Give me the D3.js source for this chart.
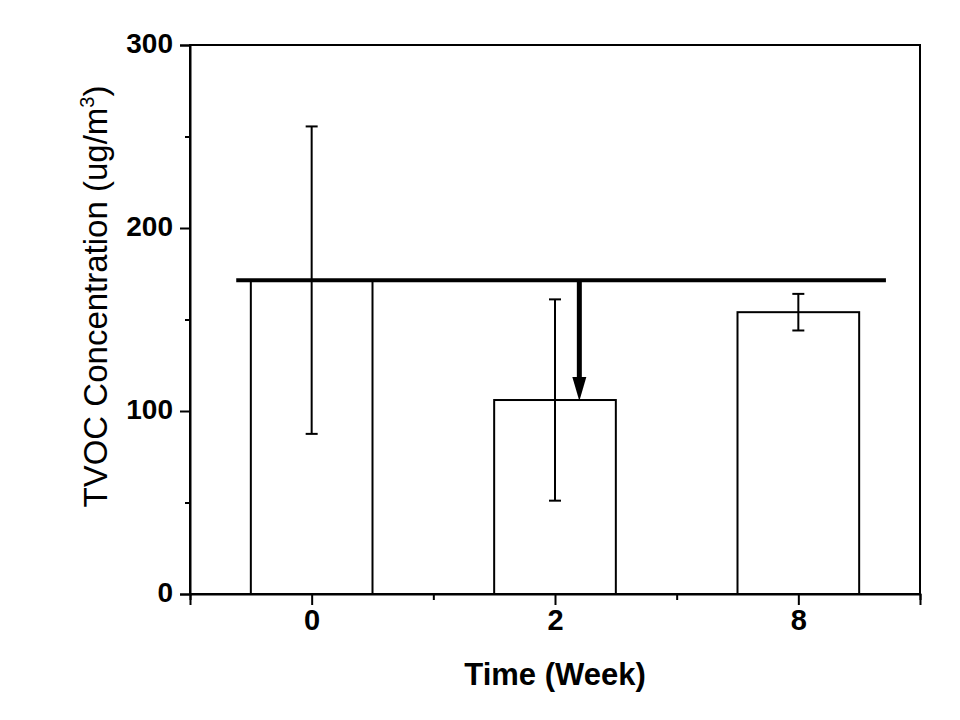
<!DOCTYPE html>
<html>
<head>
<meta charset="utf-8">
<script src="https://cdn.jsdelivr.net/npm/d3@7"></script>
<style>
    body { margin: 0; background: #fff; }
    text { font-family: "Liberation Sans", Arial, sans-serif; font-weight: bold; fill: #000; }
</style>
</head>
<body>
<div id="chart"></div>
<script>
    // weeks and TVOC values
    var weeks = ["0", "2", "8"];
    var means = [171.5, 106, 154];
    var errs = [84, 55, 10];
    var baseline = 171.5;   // level of week 0, drawn as the reference line
    var yTicks = [0, 100, 200, 300];

    var margin = {top: 45, right: 40, bottom: 126, left: 190},
        width = 960 - margin.left - margin.right,
        height = 720 - margin.top - margin.bottom;

    var x = d3.scaleLinear().domain([-0.5, 2.5]).range([0, width]);
    var y = d3.scaleLinear().domain([0, 300]).range([height, 0]);

    var svg = d3.select("#chart").append("svg")
        .attr("width", 960)
        .attr("height", 720)
        .append("g")
        .attr("transform", "translate(" + margin.left + "," + margin.top + ")");

    // bars
    svg.selectAll(".bar")
        .data(means)
        .enter().append("rect")
        .attr("x", function (d, i) { return x(i - 0.25); })
        .attr("y", function (d) { return y(d); })
        .attr("width", x(0.25) - x(-0.25))
        .attr("height", function (d) { return height - y(d); })
        .attr("fill", "#fff")
        .attr("stroke", "#000")
        .attr("stroke-width", 2);

    // error bars
    var eb = svg.selectAll(".err")
        .data(means)
        .enter().append("g");
    eb.append("line")
        .attr("x1", function (d, i) { return x(i); })
        .attr("x2", function (d, i) { return x(i); })
        .attr("y1", function (d, i) { return y(d + errs[i]); })
        .attr("y2", function (d, i) { return y(d - errs[i]); })
        .attr("stroke", "#000").attr("stroke-width", 2);
    [1, -1].forEach(function (s) {
        eb.append("line")
            .attr("x1", function (d, i) { return x(i) - 6; })
            .attr("x2", function (d, i) { return x(i) + 6; })
            .attr("y1", function (d, i) { return y(d + s * errs[i]); })
            .attr("y2", function (d, i) { return y(d + s * errs[i]); })
            .attr("stroke", "#000").attr("stroke-width", 2);
    });

    // reference line + arrow down to week 2
    svg.append("line")
        .attr("x1", x(-0.31)).attr("x2", x(2.36))
        .attr("y1", y(baseline)).attr("y2", y(baseline))
        .attr("stroke", "#000").attr("stroke-width", 4);

    var ax = x(1.1);
    svg.append("line")
        .attr("x1", ax).attr("x2", ax)
        .attr("y1", y(baseline)).attr("y2", y(means[1]) - 20)
        .attr("stroke", "#000").attr("stroke-width", 5);
    svg.append("path")
        .attr("d", "M" + (ax - 7) + "," + (y(means[1]) - 23) +
            "L" + (ax + 7) + "," + (y(means[1]) - 23) +
            "L" + ax + "," + (y(means[1]) + 1) + "Z")
        .attr("fill", "#000");

    // frame
    svg.append("rect")
        .attr("width", width).attr("height", height)
        .attr("fill", "none").attr("stroke", "#000").attr("stroke-width", 2);

    // y axis: majors + minors, outward
    var gy = svg.append("g")
        .call(d3.axisLeft(y).tickValues(yTicks).tickSize(10).tickPadding(7));
    gy.select(".domain").attr("stroke-width", 2);
    gy.selectAll(".tick line").attr("stroke-width", 2);
    gy.selectAll("text").style("font-size", "28px").attr("dy", "0.26em");
    svg.append("g")
        .call(d3.axisLeft(y).tickValues([50, 150, 250]).tickSize(5).tickFormat(""))
        .call(function (g) { g.select(".domain").remove(); })
        .selectAll("line").attr("stroke-width", 2);

    // x axis
    var gx = svg.append("g")
        .attr("transform", "translate(0," + height + ")")
        .call(d3.axisBottom(x).tickValues([0, 1, 2]).tickFormat(function (d) { return weeks[d]; })
            .tickSize(11).tickPadding(4));
    gx.select(".domain").attr("stroke-width", 2);
    gx.selectAll(".tick line").attr("stroke-width", 2);
    gx.selectAll("text").style("font-size", "29px");
    svg.append("g")
        .attr("transform", "translate(0," + height + ")")
        .call(d3.axisBottom(x).tickValues([-0.5, 0.5, 1.5, 2.5]).tickSize(6).tickFormat(""))
        .call(function (g) { g.select(".domain").remove(); })
        .selectAll("line").attr("stroke-width", 2);

    // titles
    svg.append("text")
        .attr("x", x(1)).attr("y", height + 91)
        .attr("text-anchor", "middle")
        .style("font-size", "31px")
        .text("Time (Week)");

    var yt = svg.append("text")
        .attr("transform", "translate(" + (-83) + "," + (height / 2 - 23) + ") rotate(-90)")
        .attr("text-anchor", "middle")
        .style("font-size", "33px")
        .style("font-weight", "normal");
    yt.append("tspan").text("TVOC Concentration (ug/m");
    yt.append("tspan").attr("dy", -13).style("font-size", "20px").text("3");
    yt.append("tspan").attr("dy", 13).text(")");
</script>
</body>
</html>
